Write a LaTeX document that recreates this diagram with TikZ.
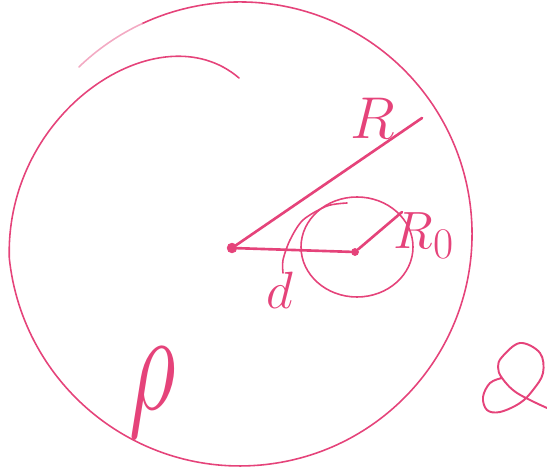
\documentclass[tikz,border=0pt]{standalone}
\usepackage{amsmath,amssymb}
\usepackage{xcolor}
\usepackage{tikz}
\usetikzlibrary{calc,positioning}
\definecolor{penx}{HTML}{E5437A}
\tikzset{
  pen/.style={penx,line width=0.9pt,line cap=round,line join=round},
  thk/.style={penx,line width=1.5pt,line cap=round},
  dot/.style={circle,fill=penx,draw=penx,inner sep=0pt},
  lbl/.style={text=penx,inner sep=0pt,font=\Huge}
}
\begin{document}
\begin{tikzpicture}[x=0.02cm,y=-0.02cm]
\useasboundingbox (0,0) rectangle (547,472);
\draw[pen] (239,78) .. controls (160,10) and (5,110) .. (9.3,258.2)
  arc[start angle=174,end angle=-115,radius=232] coordinate (fadept);
\draw[pen,penx!45] (fadept) arc[start angle=-115,end angle=-134,radius=232];
\draw[pen] (357,247) ellipse [x radius=56,y radius=50];
\draw[pen] plot[smooth] coordinates {(347,203) (327,206) (303,220) (290,240) (283,260) (283,273)};
\draw[pen,line width=1.1pt] plot[smooth,tension=0.6] coordinates {(547,408) (517,393) (502,378) (498,367) (502,357) (520,343) (540,353) (543,373) (533,390) (520,403) (500,412) (487,410) (483,397) (490,383) (502,378)};
\node[dot,minimum size=5.5pt] (o) at (232,248) {};
\node[dot,minimum size=4pt] (c) at (355,252) {};
\coordinate (rend) at (422,118);
\coordinate (r0end) at (402,212);
\draw[thk] (o) -- (rend);
\draw[thk] (o) -- (c);
\draw[thk] (c) -- (r0end);
\node[lbl,scale=1.35] (rlbl) at (373,118) {$R$};
\node[lbl,scale=1.2] (r0lbl) at (424,236) {$R_0$};
\node[lbl,scale=1.2] (dlbl) at (280,290) {$d$};
\node[lbl,xscale=2.1,yscale=3.3] (rholbl) at (153,392) {$\rho$};
\end{tikzpicture}
\end{document}
